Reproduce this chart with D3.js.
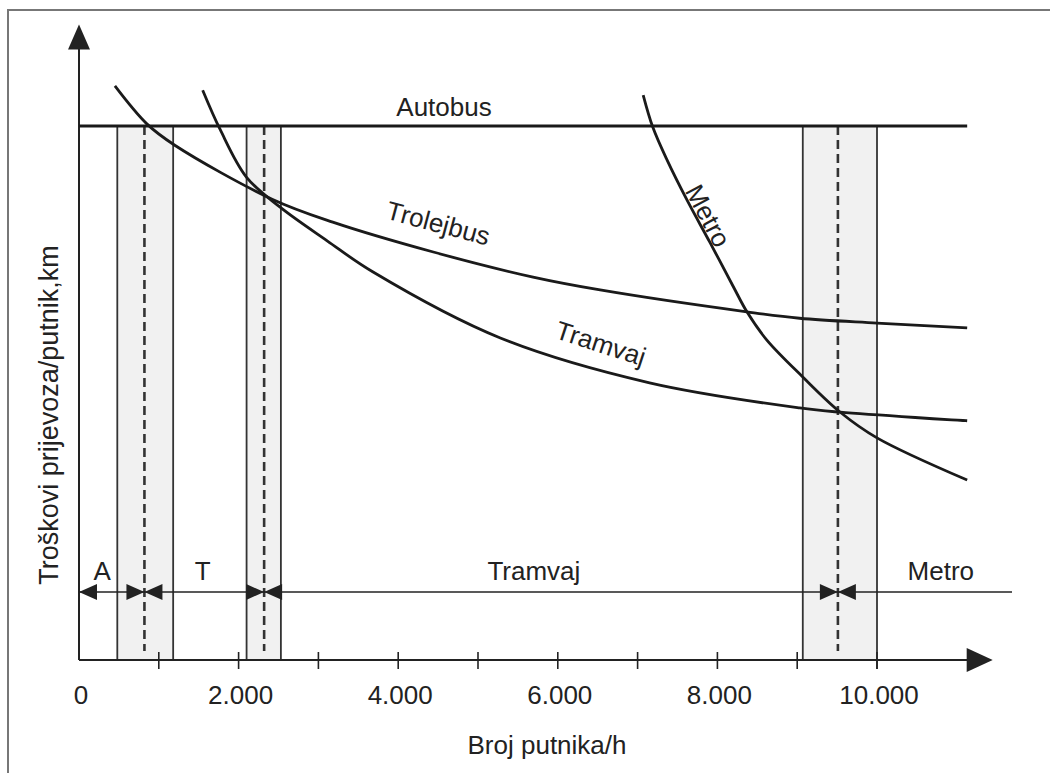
<!DOCTYPE html>
<html>
<head>
<meta charset="utf-8">
<script src="https://cdn.jsdelivr.net/npm/d3@7"></script>
<style>
  body { margin: 0; background: #fff; }
  text { font-family: "Liberation Sans", Arial, sans-serif; fill: #222; }
</style>
</head>
<body>
<div id="chart"></div>
<script>
var svgWidth = 1050;
var svgHeight = 773;

// passengers per hour vs. relative cost (cost units, Autobus = 10)
var autobus = [[0, 10], [11130, 10]];
var trolejbus = [[450, 10.75], [850, 10.04], [1200, 9.64], [2420, 8.63], [3180, 8.20],
                 [4440, 7.64], [5690, 7.17], [6530, 6.93], [8370, 6.52], [9030, 6.40], [10000, 6.31], [11130, 6.22]];
var tramvaj = [[1550, 10.67], [1770, 9.93], [2100, 9.04], [2520, 8.48], [3110, 7.85], [3680, 7.27],
               [5280, 6.03], [7150, 5.19], [9030, 4.72], [9540, 4.64], [11130, 4.48]];
var metro = [[7070, 10.58], [7190, 9.98], [7370, 9.36], [7620, 8.61], [7910, 7.81], [8200, 6.99],
             [8370, 6.52], [8620, 5.99], [9070, 5.30], [9540, 4.64], [10000, 4.16], [11130, 3.37]];

// transition bands: [left, break (dashed), right]
var bands = [[480, 820, 1180], [2100, 2320, 2530], [9070, 9510, 10000]];

var rangeLabels = ["A", "T", "Tramvaj", "Metro"];
var rangeLabelAt = [290, 1550, 5700, 10800];

var tickValues = [1000, 2000, 3000, 4000, 5000, 6000, 7000, 8000, 9000, 10000];
var labelValues = [0, 2000, 4000, 6000, 8000, 10000];
var tickLabels = ["0", "2.000", "4.000", "6.000", "8.000", "10.000"];

var xMax = 11450;  // end of x axis arrow
var yMax = 11.9;   // top of y axis arrow

var svg = d3.select("#chart")
  .append("svg")
  .attr("width", svgWidth)
  .attr("height", svgHeight);

var x = d3.scaleLinear().domain([0, 10000]).range([79, 877]);
var y = d3.scaleLinear().domain([0, 10]).range([660, 126]);

// scan frame
svg.append("path")
  .attr("d", "M8,773 L8,10 L1050,10")
  .attr("fill", "none")
  .attr("stroke", "#777")
  .attr("stroke-width", 2);

// band shading
svg.selectAll("rect.band")
  .data(bands)
  .enter()
  .append("rect")
  .attr("class", "band")
  .attr("x", d => x(d[0]))
  .attr("y", y(10))
  .attr("width", d => x(d[2]) - x(d[0]))
  .attr("height", y(0) - y(10))
  .attr("fill", "#f1f1f1");

// band edges
bands.forEach(function(b) {
  [b[0], b[2]].forEach(function(v) {
    svg.append("line")
      .attr("x1", x(v)).attr("x2", x(v))
      .attr("y1", y(10)).attr("y2", y(0) + (v === 10000 ? 9 : 0))
      .attr("stroke", "#333")
      .attr("stroke-width", 1.8);
  });
  svg.append("line")
    .attr("x1", x(b[1])).attr("x2", x(b[1]))
    .attr("y1", y(10)).attr("y2", y(0) - 9)
    .attr("stroke", "#333")
    .attr("stroke-width", 2.6)
    .attr("stroke-dasharray", "9,5");
});

// axes
var xAxisG = svg.append("g").attr("transform", `translate(0, ${y(0)})`);
xAxisG.append("line")
  .attr("x1", x(0)).attr("x2", x(xMax) - 20)
  .attr("stroke", "#222").attr("stroke-width", 2);
xAxisG.append("path")
  .attr("d", `M${x(xMax) - 26},-12 L${x(xMax)},0 L${x(xMax) - 26},12 Z`)
  .attr("fill", "#222");
xAxisG.selectAll("line.tick")
  .data(tickValues)
  .enter()
  .append("line")
  .attr("class", "tick")
  .attr("x1", d => x(d)).attr("x2", d => x(d))
  .attr("y1", -8).attr("y2", 9)
  .attr("stroke", "#222").attr("stroke-width", 1.6);
xAxisG.selectAll("text.tl")
  .data(labelValues)
  .enter()
  .append("text")
  .attr("class", "tl")
  .attr("x", d => x(d) + 2)
  .attr("y", 44)
  .attr("text-anchor", "middle")
  .attr("font-size", "26px")
  .text((d, i) => tickLabels[i]);

svg.append("line")
  .attr("x1", x(0)).attr("x2", x(0))
  .attr("y1", y(0)).attr("y2", y(yMax) + 20)
  .attr("stroke", "#222").attr("stroke-width", 2);
svg.append("path")
  .attr("d", `M${x(0) - 11},${y(yMax) + 25} L${x(0)},${y(yMax)} L${x(0) + 11},${y(yMax) + 25} Z`)
  .attr("fill", "#222");

svg.append("text")
  .attr("x", 547)
  .attr("y", 754)
  .attr("text-anchor", "middle")
  .attr("font-size", "26px")
  .text("Broj putnika/h");

svg.append("text")
  .attr("transform", "translate(58, 415) rotate(-90)")
  .attr("text-anchor", "middle")
  .attr("font-size", "27px")
  .text("Troškovi prijevoza/putnik,km");

// cost curves
var line = d3.line()
  .x(d => x(d[0]))
  .y(d => y(d[1]))
  .curve(d3.curveCatmullRom.alpha(0.5));

[autobus, trolejbus, tramvaj, metro].forEach(function(s) {
  svg.append("path")
    .datum(s)
    .attr("d", line)
    .attr("fill", "none")
    .attr("stroke", "#1a1a1a")
    .attr("stroke-width", 2.8);
});

// curve labels
svg.append("text")
  .attr("x", 444).attr("y", 116)
  .attr("text-anchor", "middle")
  .attr("font-size", "26px")
  .text("Autobus");
svg.append("text")
  .attr("transform", "translate(436, 232) rotate(15)")
  .attr("text-anchor", "middle")
  .attr("font-size", "26px")
  .text("Trolejbus");
svg.append("text")
  .attr("transform", "translate(598, 352) rotate(18)")
  .attr("text-anchor", "middle")
  .attr("font-size", "26px")
  .text("Tramvaj");
svg.append("text")
  .attr("transform", "translate(700, 220) rotate(62)")
  .attr("text-anchor", "middle")
  .attr("font-size", "26px")
  .text("Metro");

// range line with arrows
var rangeY = 592;
svg.append("line")
  .attr("x1", x(0)).attr("x2", 1012)
  .attr("y1", rangeY).attr("y2", rangeY)
  .attr("stroke", "#222").attr("stroke-width", 1.6);

function tri(tipX, dir) {
  svg.append("path")
    .attr("d", `M${tipX},${rangeY} L${tipX - dir * 18},${rangeY - 8} L${tipX - dir * 18},${rangeY + 8} Z`)
    .attr("fill", "#222");
}
tri(x(0), -1);
bands.forEach(function(b) {
  tri(x(b[1]), 1);
  tri(x(b[1]), -1);
});

svg.selectAll("text.range")
  .data(rangeLabels)
  .enter()
  .append("text")
  .attr("class", "range")
  .attr("x", (d, i) => x(rangeLabelAt[i]))
  .attr("y", 580)
  .attr("text-anchor", "middle")
  .attr("font-size", "26px")
  .text(d => d);
</script>
</body>
</html>
